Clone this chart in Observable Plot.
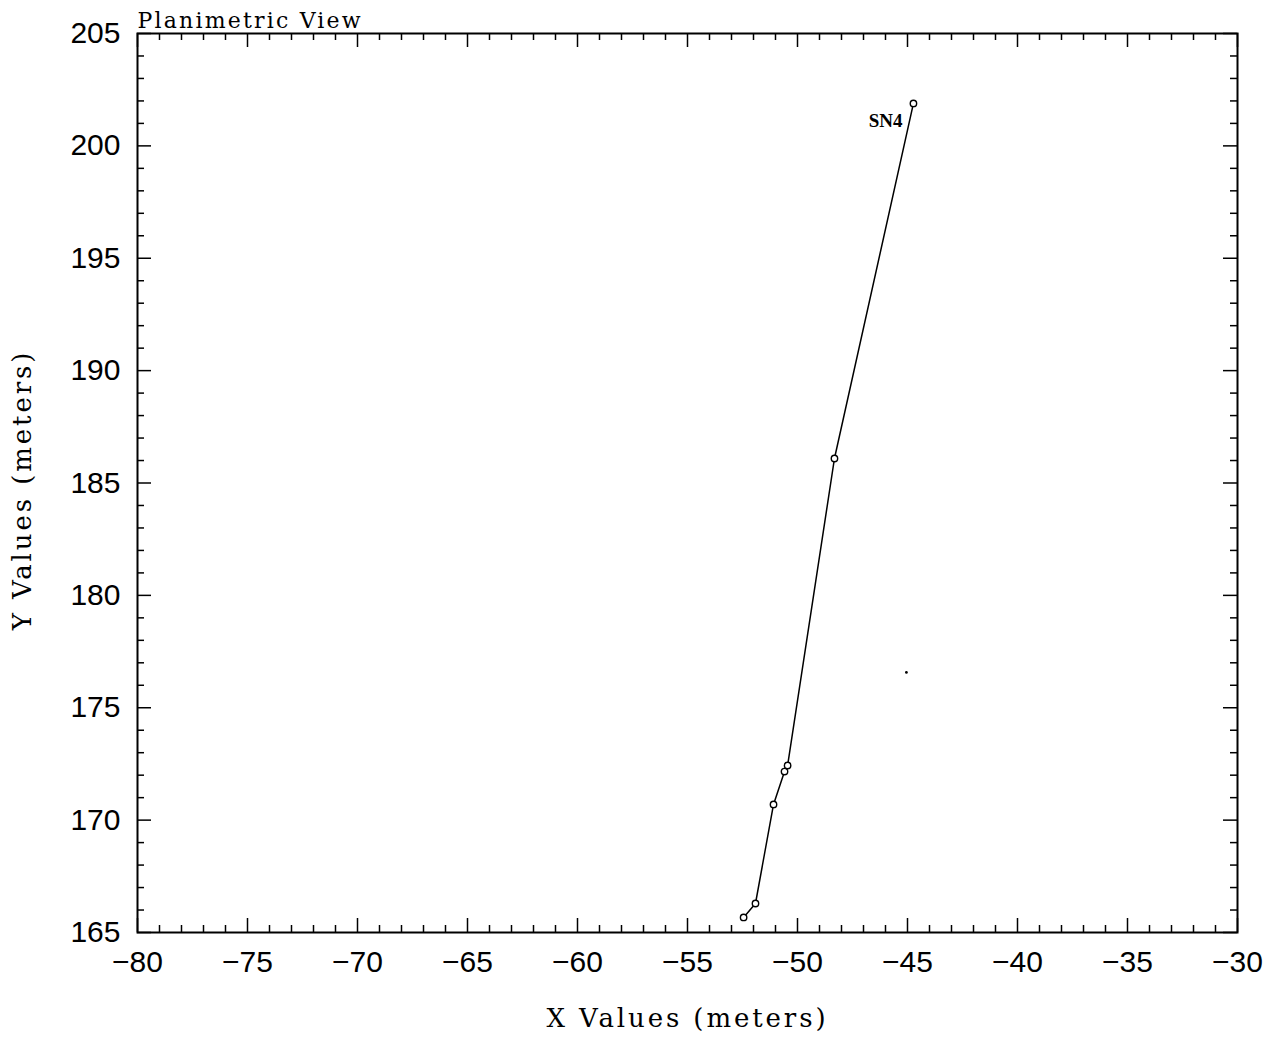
<!DOCTYPE html>
<html><head><meta charset="utf-8">
<script src="https://cdn.jsdelivr.net/npm/d3@7"></script>
<script src="https://cdn.jsdelivr.net/npm/@observablehq/plot@0.6"></script>
<style>body{margin:0;background:#fff;} svg{display:block;}</style>
</head><body><div id="chart"></div>
<script>
// Survey line SN4 (planimetric view)
const pointX = [-52.45, -51.91, -51.09, -50.59, -50.45, -48.32, -44.73];
const pointY = [165.67, 166.29, 170.70, 172.16, 172.43, 186.09, 201.89];
const lineName = "SN4";
const strayX = [-45.05];
const strayY = [176.57];
const xMajor = [-80, -75, -70, -65, -60, -55, -50, -45, -40, -35, -30];
const yMajor = [165, 170, 175, 180, 185, 190, 195, 200, 205];
const xMinor = d3.range(-80, -29, 1).filter(v => v % 5 !== 0);
const yMinor = d3.range(165, 206, 1).filter(v => v % 5 !== 0);
const titleText = "Planimetric View";
const xTitle = "X Values (meters)";
const yTitle = "Y Values (meters)";

const pts = pointX.map((x, i) => ({x, y: pointY[i]}));
const stray = strayX.map((x, i) => ({x, y: strayY[i]}));
const last = pts[pts.length - 1];

const W = 1284, H = 1039, ML = 137, MR = 47, MT = 33, MB = 107;
const PW = W - ML - MR, PH = H - MT - MB;
const minorLen = 7, majorLen = 14;
const tickFont = "Liberation Sans";
const serif = "DejaVu Serif";
const tk = {stroke: "#000", strokeWidth: 1.5};

const chart = Plot.plot({
  width: W,
  height: H,
  marginLeft: ML,
  marginRight: MR,
  marginTop: MT,
  marginBottom: MB,
  style: {background: "#fff", color: "#000", overflow: "visible"},
  x: {domain: [-80, -30], axis: null},
  y: {domain: [165, 205], axis: null},
  marks: [
    // inward ticks on all four sides
    Plot.ruleX(xMinor, {...tk, insetTop: PH - minorLen}),
    Plot.ruleX(xMinor, {...tk, insetBottom: PH - minorLen}),
    Plot.ruleX(xMajor, {...tk, insetTop: PH - majorLen}),
    Plot.ruleX(xMajor, {...tk, insetBottom: PH - majorLen}),
    Plot.ruleY(yMinor, {...tk, insetRight: PW - minorLen}),
    Plot.ruleY(yMinor, {...tk, insetLeft: PW - minorLen}),
    Plot.ruleY(yMajor, {...tk, insetRight: PW - majorLen}),
    Plot.ruleY(yMajor, {...tk, insetLeft: PW - majorLen}),
    Plot.frame({stroke: "#000", strokeWidth: 2}),
    Plot.axisX(xMajor, {anchor: "bottom", tickSize: 0, tickPadding: 18, fontSize: 30, fontFamily: tickFont, label: null, fill: "#000"}),
    Plot.axisY(yMajor, {anchor: "left", tickSize: 0, tickPadding: 17, fontSize: 30, fontFamily: tickFont, label: null, fill: "#000"}),
    Plot.line(pts, {x: "x", y: "y", stroke: "#000", strokeWidth: 1.5}),
    Plot.dot(pts, {x: "x", y: "y", r: 3.2, stroke: "#000", fill: "#fff", strokeWidth: 1.4}),
    Plot.dot(stray, {x: "x", y: "y", r: 1.4, fill: "#000", stroke: null}),
    Plot.text([last], {x: "x", y: "y", text: () => lineName, textAnchor: "end", lineAnchor: "middle", dx: -11, dy: 18, fontSize: 19, fontWeight: "bold", fontFamily: "Liberation Serif", fill: "#000"}),
    Plot.text([titleText], {frameAnchor: "top-left", textAnchor: "start", lineAnchor: "middle", dy: -13, fontSize: 22, fontFamily: serif, fill: "#000"}),
    Plot.text([xTitle], {frameAnchor: "bottom", textAnchor: "middle", lineAnchor: "middle", dy: 86, fontSize: 26, fontFamily: serif, fill: "#000"}),
    Plot.text([yTitle], {frameAnchor: "left", textAnchor: "middle", lineAnchor: "middle", rotate: -90, dx: -115, dy: 7, fontSize: 26, fontFamily: serif, fill: "#000"})
  ]
});

d3.select(chart).selectAll("text").each(function () {
  const t = this.textContent;
  if (t === xTitle || t === yTitle) this.setAttribute("letter-spacing", "2.9");
  if (t === titleText) this.setAttribute("letter-spacing", "2.2");
});

document.getElementById("chart").appendChild(chart);
</script>
</body></html>
